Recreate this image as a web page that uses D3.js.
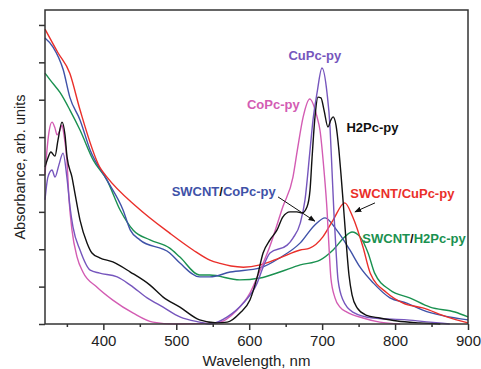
<!DOCTYPE html>
<html>
<head>
<meta charset="utf-8">
<script src="https://cdn.jsdelivr.net/npm/d3@7"></script>
<style>
  body { margin: 0; background: #fff; }
  svg text { font-family: "Liberation Sans", Arial, sans-serif; }
</style>
</head>
<body>
<svg id="chart" width="481" height="369"></svg>
<script>
// [wavelength nm, absorbance arb.]
const swcntCuPc = [[320,7.89],[338,7.25],[354,6.71],[368,5.73],[395,4.2],[405,3.93],[446,3.13],[491,2.43],[523,1.98],[546,1.71],[560,1.62],[575,1.55],[592,1.52],[615,1.58],[642,1.77],[670,1.98],[683,2.03],[701,2.33],[715,2.78],[731,3.24],[742,2.86],[756,2.06],[766,1.36],[789,0.83],[811,0.56],[838,0.43],[871,0.19],[900,0.03]]
const swcntCoPc = [[320,7.65],[331,7.41],[345,6.8],[354,6.07],[368,5.46],[382,4.65],[405,3.85],[427,3.05],[437,2.51],[450,2.25],[491,1.9],[505,1.63],[532,1.26],[546,1.26],[574,1.39],[615,1.5],[642,1.77],[670,2.17],[690,2.65],[704,2.84],[720,2.51],[738,1.98],[752,1.52],[770,1.1],[793,0.7],[816,0.56],[838,0.37],[900,0.11]]
const swcntH2Pc = [[320,6.71],[327,6.53],[341,6.18],[354,5.73],[368,5.19],[386,4.39],[405,3.85],[423,3.05],[441,2.51],[464,2.25],[491,2.03],[505,1.79],[532,1.31],[546,1.31],[587,1.18],[615,1.23],[642,1.39],[670,1.58],[697,1.71],[715,1.98],[731,2.33],[741,2.46],[752,2.33],[763,1.9],[772,1.36],[793,0.91],[820,0.7],[848,0.45],[882,0.32],[900,0.19]]
const coPc = [[320,3.99],[322.7,4.65],[325.5,5.14],[329.6,5.4],[333.7,5.24],[336.5,5.06],[340.6,5.19],[343.3,5.32],[346,5.06],[350,4.39],[353,3.32],[357,2.51],[364,1.79],[372,1.39],[391,0.99],[413,0.64],[441,0.29],[468,0.05],[498,0],[556,0.03],[583,0.37],[601,0.83],[615,1.44],[628,2.06],[646,3.13],[660,3.93],[666,4.65],[674,5.54],[683,6.02],[693,5.54],[697,5.19],[702.5,4.12],[706.7,3.05],[709.4,2.06],[712,1.23],[717.6,0.7],[724.5,0.45],[734,0.32],[756,0.16],[779,0.05],[807,0]]
const cuPc = [[320,3.32],[324,3.93],[329.6,4.12],[333.7,3.93],[339,4.25],[344.7,4.57],[350,3.93],[354.3,3.13],[358.4,2.59],[368,1.98],[382,1.44],[395,1.36],[419,1.26],[437,1.04],[460,0.7],[482,0.45],[505,0.19],[532,0.05],[546,0],[570,0.19],[592,0.56],[611,1.1],[619,1.52],[628.5,1.9],[652,2.11],[660,2.3],[670,2.7],[676.5,3.32],[683.4,4.65],[687.5,5.46],[693,6.18],[699.8,6.85],[706.7,6.18],[710.8,5.27],[713.5,4.12],[716.3,2.92],[719,1.98],[721.8,1.18],[728.6,0.64],[742,0.32],[770,0.16],[816,0.11],[848,0.05],[875,0]]
const h2Pc = [[320,4.2],[324,4.44],[328,4.6],[333.7,4.49],[337.8,4.92],[343.3,5.4],[347.4,5.06],[350.2,4.47],[357,3.93],[361,3.5],[368,2.78],[377.6,2.17],[384.4,1.9],[395,1.77],[413,1.66],[437,1.39],[464,1.04],[482,0.72],[505,0.45],[532,0.11],[556,0.03],[570,0.05],[587,0.29],[601,0.64],[611,1.26],[619,1.9],[628.5,2.25],[638,2.51],[646,2.86],[656,3],[665.5,3],[672.4,2.97],[679.2,3.13],[683.4,3.58],[686,4.39],[690.2,5.54],[694.3,6.07],[698.4,6.05],[702.5,5.73],[708,5.27],[712,5.46],[715,5.54],[719,5.32],[723,4.65],[725.9,3.99],[728.6,3.32],[732.7,2.25],[736.8,1.31],[741,0.78],[748,0.43],[760,0.24],[779,0.16],[803,0.08],[834,0.03],[862,0]]

const xMajor = [400, 500, 600, 700, 800, 900]
const xMinor = [350, 450, 550, 650, 750, 850]
const yTicks = [0, 1, 2, 3, 4, 5, 6, 7, 8]

const series = [
  { name: 'SWCNT/H2Pc-py', data: swcntH2Pc, color: '#1a9150' },
  { name: 'SWCNT/CoPc-py', data: swcntCoPc, color: '#3f52a8' },
  { name: 'SWCNT/CuPc-py', data: swcntCuPc, color: '#ea2f2a' },
  { name: 'CoPc-py', data: coPc, color: '#d35cb3' },
  { name: 'CuPc-py', data: cuPc, color: '#7656bd' },
  { name: 'H2Pc-py', data: h2Pc, color: '#111111' }
]

const margin = { top: 10, right: 13, bottom: 45, left: 45 }
const width = 481, height = 369
const svg = d3.select('#chart')

const x = d3.scaleLinear().domain([320, 900]).range([margin.left, width - margin.right])
const y = d3.scaleLinear().domain([0, 8.4]).range([height - margin.bottom, margin.top])

// arrow head
svg.append('defs').append('marker')
    .attr('id', 'arr')
    .attr('viewBox', '0 0 10 10')
    .attr('refX', 9).attr('refY', 5)
    .attr('markerWidth', 7).attr('markerHeight', 7)
    .attr('orient', 'auto')
  .append('path')
    .attr('d', 'M0,1 L10,5 L0,9 z')
    .attr('fill', '#111')

const line = d3.line()
    .x(d => x(d[0]))
    .y(d => y(d[1]))
    .curve(d3.curveMonotoneX)

svg.append('g')
  .selectAll('path')
  .data(series)
  .enter().append('path')
    .attr('d', d => line(d.data))
    .attr('fill', 'none')
    .attr('stroke', d => d.color)
    .attr('stroke-width', 1.4)

// frame
svg.append('rect')
    .attr('x', x.range()[0]).attr('y', y.range()[1])
    .attr('width', x.range()[1] - x.range()[0])
    .attr('height', y.range()[0] - y.range()[1])
    .attr('fill', 'none')
    .attr('stroke', '#333')
    .attr('stroke-width', 1.5)

const ax = svg.append('g')
    .attr('transform', `translate(0,${y(0)})`)
    .call(d3.axisBottom(x).tickValues(xMajor).tickSize(6).tickPadding(5))
ax.append('g').call(d3.axisBottom(x).tickValues(xMinor).tickSize(3).tickFormat(''))
const ay = svg.append('g')
    .attr('transform', `translate(${x(320)},0)`)
    .call(d3.axisLeft(y).tickValues(yTicks).tickSize(6).tickFormat(''))

svg.selectAll('.domain').remove()
svg.selectAll('.tick line').attr('stroke', '#333').attr('stroke-width', 1.5)
ax.selectAll('text')
    .attr('font-size', 15)
    .attr('fill', '#222')
    .attr('font-family', '"Liberation Sans", Arial, sans-serif')

svg.append('text')
    .attr('x', (x.range()[0] + x.range()[1]) / 2)
    .attr('y', 366)
    .attr('text-anchor', 'middle')
    .attr('font-size', 15)
    .attr('fill', '#222')
    .text('Wavelength, nm')

svg.append('text')
    .attr('transform', `translate(25,${(y.range()[0] + y.range()[1]) / 2}) rotate(-90)`)
    .attr('text-anchor', 'middle')
    .attr('font-size', 14.5)
    .attr('fill', '#222')
    .text('Absorbance, arb. units')

// curve labels
const labels = [
  { parts: [['CuPc-py', '#7656bd']], at: [690, 7.07] },
  { parts: [['CoPc-py', '#d35cb3']], at: [633, 5.75] },
  { parts: [['H2Pc-py', '#111']], at: [769, 5.14] },
  { parts: [['SWCNT', '#3f52a8'], ['/', '#111'], ['CoPc-py', '#3f52a8']], at: [565, 3.42] },
  { parts: [['SWCNT/CuPc-py', '#ea2f2a']], at: [810, 3.37] },
  { parts: [['SWCNT', '#1a9150'], ['/', '#111'], ['H2Pc-py', '#1a9150']], at: [826, 2.17] }
]
labels.forEach(l => {
  const t = svg.append('text')
      .attr('x', x(l.at[0])).attr('y', y(l.at[1]))
      .attr('text-anchor', 'middle')
      .attr('font-size', 13)
      .attr('font-weight', 'bold')
  l.parts.forEach(p => t.append('tspan').attr('fill', p[1]).text(p[0]))
})

// pointer arrows
const arrows = [
  [[639.5, 3.4], [690, 2.75]],
  [[772.5, 3.24], [745, 3.0]]
]
svg.append('g')
  .selectAll('line')
  .data(arrows)
  .enter().append('line')
    .attr('x1', d => x(d[0][0])).attr('y1', d => y(d[0][1]))
    .attr('x2', d => x(d[1][0])).attr('y2', d => y(d[1][1]))
    .attr('stroke', '#111')
    .attr('stroke-width', 1)
    .attr('marker-end', 'url(#arr)')
</script>
</body>
</html>
